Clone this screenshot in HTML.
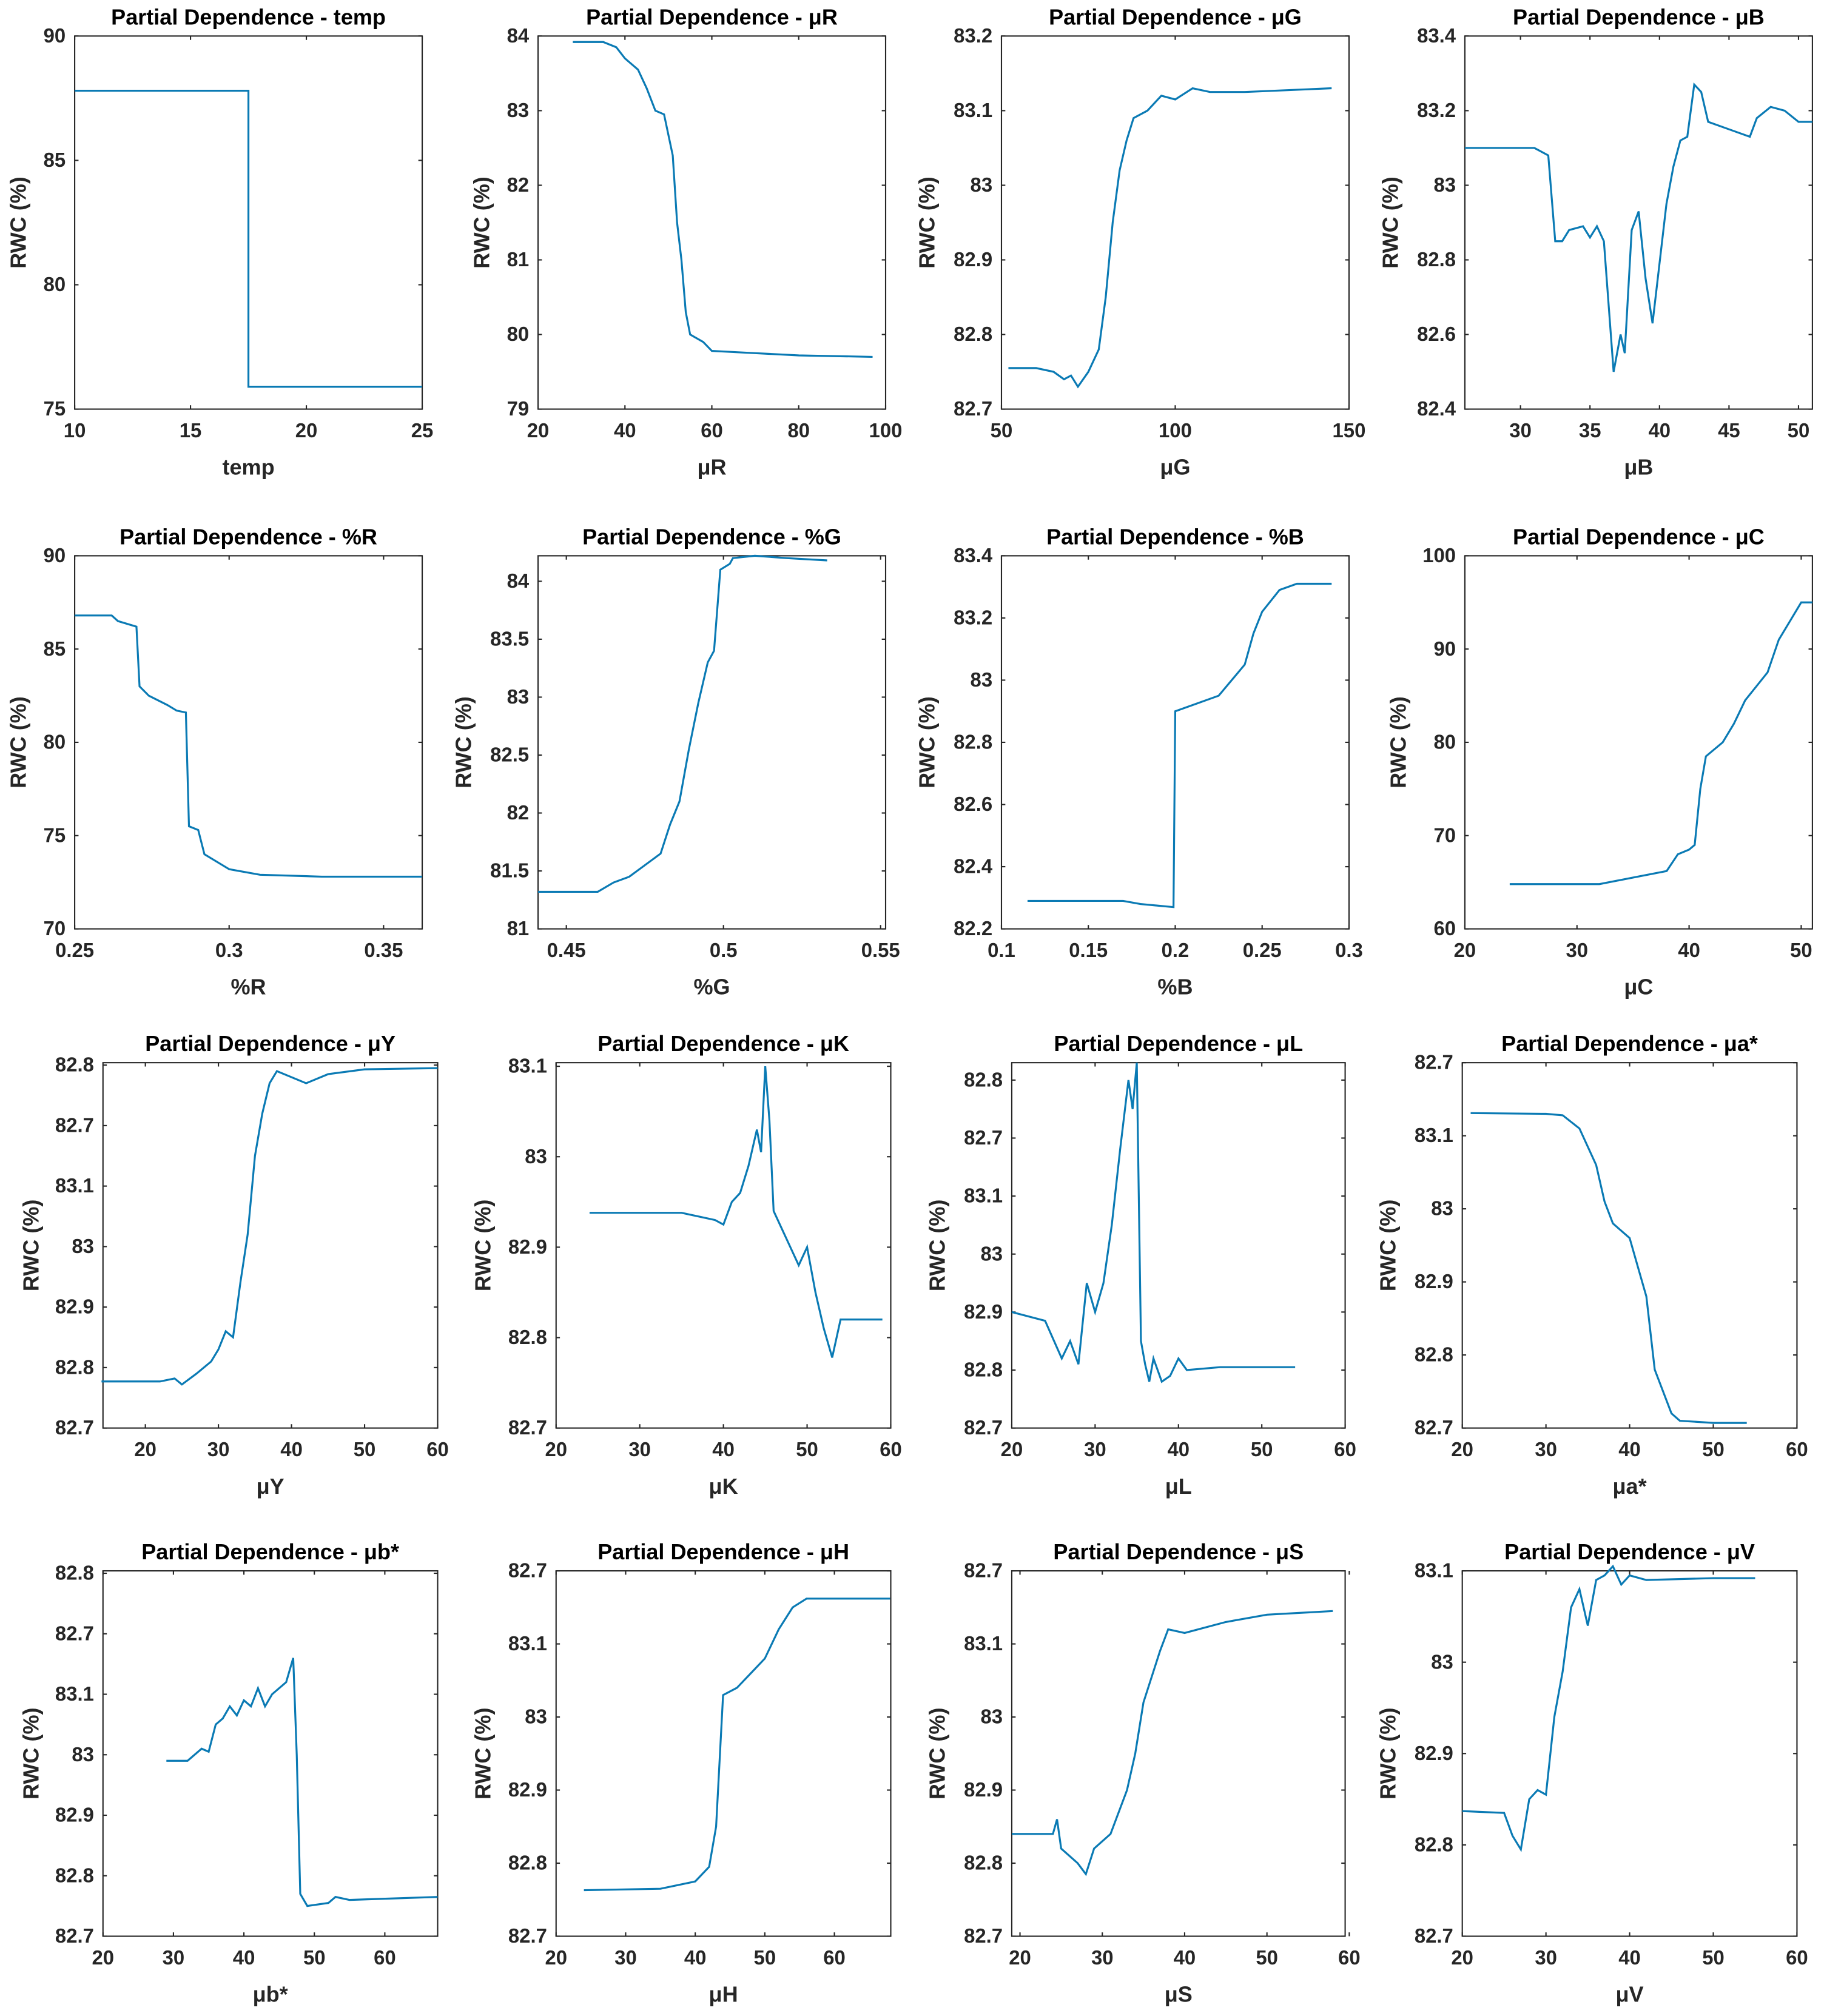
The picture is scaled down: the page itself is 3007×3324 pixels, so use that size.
<!DOCTYPE html>
<html><head><meta charset="utf-8"><style>
html,body{margin:0;padding:0;background:#fff}
svg{display:block}
text{font-family:"Liberation Sans",sans-serif;fill:#262626}
.tk{font-size:15.5px;font-weight:bold}
.tt{font-size:17px;font-weight:bold;fill:#000}
.lb{font-size:17px;font-weight:bold}
</style></head><body>
<svg id="fig" width="3007" height="3324" viewBox="0 0 1417 1567" preserveAspectRatio="none" xmlns="http://www.w3.org/2000/svg"></svg>
<script>
// ---- data (x values, y values, tick labels) ----
const tempX=[10,17.5,17.5,25];
const tempY=[87.8,87.8,75.9,75.9];
const muRX=[28,35,38,40,43,45,47,49,51,52,53,54,55,58,60,70,80,97];
const muRY=[83.92,83.92,83.85,83.7,83.55,83.3,83.0,82.95,82.4,81.5,81.0,80.3,80.0,79.9,79.78,79.75,79.72,79.7];
const muGX=[52,60,65,68,70,72,75,78,80,82,84,86,88,92,96,100,105,110,120,145];
const muGY=[82.755,82.755,82.75,82.74,82.745,82.73,82.75,82.78,82.85,82.95,83.02,83.06,83.09,83.1,83.12,83.115,83.13,83.125,83.125,83.13];
const muBX=[26,31,32,32.5,33,33.5,34.5,35,35.5,36,36.7,37.2,37.5,38,38.5,39,39.5,40.5,41,41.5,42,42.5,43,43.5,45,46.5,47,48,49,50,51];
const muBY=[83.1,83.1,83.08,82.85,82.85,82.88,82.89,82.86,82.89,82.85,82.5,82.6,82.55,82.88,82.93,82.75,82.63,82.95,83.05,83.12,83.13,83.27,83.25,83.17,83.15,83.13,83.18,83.21,83.2,83.17,83.17];
const pRX=[0.25,0.262,0.264,0.27,0.271,0.274,0.28,0.283,0.286,0.287,0.29,0.292,0.3,0.31,0.33,0.3625];
const pRY=[86.8,86.8,86.5,86.2,83,82.5,82,81.7,81.6,75.5,75.3,74,73.2,72.9,72.8,72.8];
const pGX=[0.441,0.46,0.465,0.47,0.475,0.48,0.483,0.486,0.489,0.492,0.495,0.497,0.499,0.502,0.503,0.51,0.52,0.533];
const pGY=[81.32,81.32,81.4,81.45,81.55,81.65,81.9,82.1,82.55,82.95,83.3,83.4,84.1,84.15,84.2,84.22,84.2,84.18];
const pBX=[0.115,0.17,0.18,0.199,0.2,0.21,0.225,0.24,0.245,0.25,0.26,0.27,0.29];
const pBY=[82.29,82.29,82.28,82.27,82.9,82.92,82.95,83.05,83.15,83.22,83.29,83.31,83.31];
const muCX=[24,32,35,38,39,40,40.5,41,41.5,43,44,45,46,47,48,49,50,51];
const muCY=[64.8,64.8,65.5,66.2,68,68.5,69,75,78.5,80,82,84.5,86,87.5,91,93,95,95];
const muYX=[14,22,24,25,27,29,30,31,32,33,34,35,36,37,38,40,42,45,50,60];
const muYY=[0.77,0.77,0.82,0.72,0.9,1.1,1.3,1.6,1.5,2.4,3.2,4.5,5.2,5.7,5.9,5.8,5.7,5.85,5.93,5.95];
const muKX=[24,35,39,40,41,42,43,44,44.5,45,45.5,46,47,48,49,50,51,52,53,54,59];
const muKY=[2.38,2.38,2.3,2.25,2.5,2.6,2.9,3.3,3.05,4.0,3.4,2.4,2.2,2.0,1.8,2.0,1.5,1.1,0.78,1.2,1.2];
const muLX=[20,24,26,27,28,29,30,31,32,33,34,34.5,35,35.5,36,36.5,37,38,39,40,41,45,54];
const muLY=[2.0,1.85,1.2,1.5,1.1,2.5,2.0,2.5,3.5,4.8,6.0,5.5,6.3,1.5,1.1,0.8,1.2,0.8,0.9,1.2,1.0,1.05,1.05];
const muAX=[21,30,32,34,36,37,38,40,41,42,43,44,45,46,50,54];
const muAY=[4.31,4.3,4.28,4.1,3.6,3.1,2.8,2.6,2.2,1.8,0.8,0.5,0.2,0.1,0.07,0.07];
const muBsX=[29,32,33,34,35,36,37,38,39,40,41,42,43,44,45,46,47,47.5,48,49,52,53,55,60,67.5];
const muBsY=[2.9,2.9,3.0,3.1,3.05,3.5,3.6,3.8,3.65,3.9,3.8,4.1,3.8,4.0,4.1,4.2,4.6,3.0,0.7,0.5,0.55,0.65,0.6,0.62,0.65];
const muHX=[24,35,40,42,43,44,46,48,50,52,54,56,60,68];
const muHY=[0.63,0.65,0.75,0.95,1.5,3.3,3.4,3.6,3.8,4.2,4.5,4.62,4.62,4.62];
const muSX=[19,24,24.5,25,27,28,29,31,33,34,35,37,38,40,45,50,58];
const muSY=[1.4,1.4,1.6,1.2,1.0,0.85,1.2,1.4,2.0,2.5,3.2,3.9,4.2,4.15,4.3,4.4,4.45];
const muVX=[20,25,26,27,28,29,30,31,32,33,34,35,36,37,38,39,40,42,50,55];
const muVY=[1.37,1.35,1.1,0.95,1.5,1.6,1.55,2.4,2.9,3.6,3.8,3.4,3.9,3.95,4.05,3.85,3.95,3.9,3.92,3.92];
const labA=["82.7","82.8","82.9","83","83.1","82.7","82.8"];
const labB=["82.7","82.8","82.9","83","83.1","82.7"];
const labC=["82.7","82.8","82.9","83","83.1"];

// ---- layout ----
const panels=[
 {n:"temp",xl:"temp",box:[58,28,270,290],yo:44,xd:[10,25],yd:[75,90],xt:[10,15,20,25],yt:[75,80,85,90],X:tempX,Y:tempY},
 {n:"μR",xl:"μR",box:[418,28,270,290],yo:44,xd:[20,100],yd:[79,84],xt:[20,40,60,80,100],yt:[79,80,81,82,83,84],X:muRX,Y:muRY},
 {n:"μG",xl:"μG",box:[778,28,270,290],yo:58,xd:[50,150],yd:[82.7,83.2],xt:[50,100,150],yt:[82.7,82.8,82.9,83,83.1,83.2],X:muGX,Y:muGY},
 {n:"μB",xl:"μB",box:[1138,28,270,290],yo:58,xd:[26,51],yd:[82.4,83.4],xt:[30,35,40,45,50],yt:[82.4,82.6,82.8,83,83.2,83.4],X:muBX,Y:muBY},
 {n:"%R",xl:"%R",box:[58,432,270,290],yo:44,xd:[0.25,0.3625],yd:[70,90],xt:[0.25,0.3,0.35],yt:[70,75,80,85,90],X:pRX,Y:pRY},
 {n:"%G",xl:"%G",box:[418,432,270,290],yo:58,xd:[0.441,0.5516],yd:[81,84.22],xt:[0.45,0.5,0.55],yt:[81,81.5,82,82.5,83,83.5,84],X:pGX,Y:pGY},
 {n:"%B",xl:"%B",box:[778,432,270,290],yo:58,xd:[0.1,0.3],yd:[82.2,83.4],xt:[0.1,0.15,0.2,0.25,0.3],yt:[82.2,82.4,82.6,82.8,83,83.2,83.4],X:pBX,Y:pBY},
 {n:"μC",xl:"μC",box:[1138,432,270,290],yo:52,xd:[20,51],yd:[60,100],xt:[20,30,40,50],yt:[60,70,80,90,100],X:muCX,Y:muCY},
 {n:"μY",xl:"μY",box:[80,826,260,284],yo:56,xd:[14.2,60],yd:[0,6.04],xt:[20,30,40,50,60],yt:[0,1,2,3,4,5,6],yl:labA,X:muYX,Y:muYY},
 {n:"μK",xl:"μK",box:[432,826,260,284],yo:57,xd:[20,60],yd:[0,4.04],xt:[20,30,40,50,60],yt:[0,1,2,3,4],yl:labC,X:muKX,Y:muKY},
 {n:"μL",xl:"μL",box:[786,826,259,284],yo:58,xd:[20,60],yd:[0,6.3],xt:[20,30,40,50,60],yt:[0,1,2,3,4,5,6],yl:labA,X:muLX,Y:muLY},
 {n:"μa*",xl:"μa*",box:[1136,826,260,284],yo:58,xd:[20,60],yd:[0,5],xt:[20,30,40,50,60],yt:[0,1,2,3,4,5],yl:labB,X:muAX,Y:muAY},
 {n:"μb*",xl:"μb*",box:[80,1221,260,284],yo:56,xd:[20,67.5],yd:[0,6.04],xt:[20,30,40,50,60],yt:[0,1,2,3,4,5,6],yl:labA,X:muBsX,Y:muBsY},
 {n:"μH",xl:"μH",box:[432,1221,260,284],yo:57,xd:[20,68.1],yd:[0,5],xt:[20,30,40,50,60],yt:[0,1,2,3,4,5],yl:labB,X:muHX,Y:muHY},
 {n:"μS",xl:"μS",box:[786,1221,259,284],yo:58,xd:[19,59.5],yd:[0,5],xt:[20,30,40,50,60],yt:[0,1,2,3,4,5],yl:labB,X:muSX,Y:muSY},
 {n:"μV",xl:"μV",box:[1136,1221,260,284],yo:58,xd:[20,60],yd:[0,4],xt:[20,30,40,50,60],yt:[0,1,2,3,4],yl:labC,X:muVX,Y:muVY}
];
const NS="http://www.w3.org/2000/svg";
const svg=document.getElementById('fig');
function mk(tag,attrs,parent,txt){const e=document.createElementNS(NS,tag);for(const k in attrs)e.setAttribute(k,attrs[k]);if(txt!==undefined)e.textContent=txt;parent.appendChild(e);return e;}
function fmt(v){return String(+v.toFixed(4));}
panels.forEach((p,i)=>{
 const [bx,by,bw,bh]=p.box;
 const sx=v=>bx+(v-p.xd[0])/(p.xd[1]-p.xd[0])*bw;
 const sy=v=>by+bh-(v-p.yd[0])/(p.yd[1]-p.yd[0])*bh;
 const g=mk('g',{},svg);
 
 
 const r=mk('rect',{x:bx,y:by,width:bw,height:bh,fill:'#fff',stroke:'#262626','stroke-width':1},g);
 
 
 p.xt.forEach(t=>{const x=sx(t);
  mk('line',{x1:x,x2:x,y1:by+bh,y2:by+bh-3,stroke:'#262626'},g);
  mk('line',{x1:x,x2:x,y1:by,y2:by+3,stroke:'#262626'},g);
  const tx=mk('text',{x:x,y:by+bh+22,'text-anchor':'middle',class:'tk'},g,fmt(t));
  
  
 });
 p.yt.forEach((t,k)=>{const y=sy(t);
  mk('line',{x1:bx,x2:bx+3,y1:y,y2:y,stroke:'#262626'},g);
  mk('line',{x1:bx+bw,x2:bx+bw-3,y1:y,y2:y,stroke:'#262626'},g);
  const tx=mk('text',{x:bx-7,y:y+5,'text-anchor':'end',class:'tk'},g,p.yl?p.yl[k]:fmt(t));
  
  
 });
 const pts=p.X.map((x,k)=>sx(x).toFixed(2)+','+sy(p.Y[k]).toFixed(2)).join(' ');
 const ln=mk('polyline',{points:pts,fill:'none',stroke:'#0a7ab4','stroke-width':1.5},g);
 
 
 const tt=mk('text',{x:bx+bw/2,y:by-9,'text-anchor':'middle',class:'tt'},g,'Partial Dependence - '+p.n);
 
 
 const xl=mk('text',{x:bx+bw/2,y:by+bh+51,'text-anchor':'middle',class:'lb'},g,p.xl);
 
 
 const yx=bx-p.yo+6;
 const yl=mk('text',{x:yx,y:by+bh/2,'text-anchor':'middle',class:'lb',transform:'rotate(-90 '+yx+' '+(by+bh/2)+')'},g,'RWC (%)');
 
 
});
</script>
</body></html>
